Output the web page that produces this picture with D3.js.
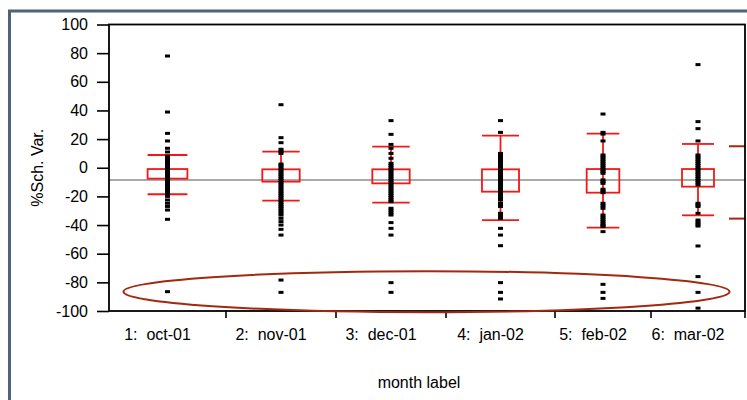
<!DOCTYPE html>
<html>
<head>
<meta charset="utf-8">
<script src="https://cdn.jsdelivr.net/npm/d3@7"></script>
<style>
  body { margin: 0; background: #fff; }
  svg { display: block; font-family: "Liberation Sans", Arial, sans-serif; }
</style>
</head>
<body>
<div id="chart"></div>
<script>
// DATA ////////////////////////////////////////////////////////////////////////

const monthLabels = ["1:  oct-01", "2:  nov-01", "3:  dec-01", "4:  jan-02", "5:  feb-02", "6:  mar-02"];

// group sizes (the x axis gives each group a width proportional to its count)
const groupN = [117, 110, 110, 109, 96, 94];

// quantile boxes: 75th, 25th, 90th and 10th percentile
const q75 = [-0.9, -1.1, -1.1, -1.1, -0.9, -0.9];
const q25 = [-7.6, -9.7, -10.9, -16.7, -17.4, -13.2];
const q90 = [8.9, 11.2, 14.7, 22.4, 23.8, 16.6];
const q10 = [-18.5, -23, -24.4, -36.5, -41.8, -33.2];

const grandMean = -8.5;
const sdMarks = [15, -35.5];

const yTicks = [100, 80, 60, 40, 20, 0, -20, -40, -60, -80, -100];

// observed %Sch. Var. per month
const octValues = [78, 38.9, 24, 18.7, 13.6, 11, 8, 6.5, 5, 4, 3, 2, 1, 0, -1, -2, -3, -4, -5, -6, -7,
  -8, -9, -10, -11, -12, -13, -14, -15, -16, -17, -18, -19, -20, -22.5, -24.8, -27, -29.5, -36, -86.5];
const novValues = [44, 21, 17.5, 12.9, 11.5, 10, 2.6, 1.5, 0, -1.5, -3, -4.5, -6, -7.5, -9, -10.5, -12,
  -13.5, -15, -16.5, -18, -19.5, -21, -22.5, -24, -25.5, -27, -28.5, -30, -31.5, -33, -35.3, -37.6,
  -40, -43, -47, -78.4, -87];
const decValues = [32.9, 23.3, 16.3, 13.6, 10, 6.6, 3.1, 1.6, 0.1, -1.4, -2.9, -4.4, -5.9, -7.4, -8.9,
  -10.4, -11.9, -13.4, -14.9, -16.4, -17.9, -19.4, -20.9, -22.4, -23.7, -28.3, -29.8, -31.5, -33,
  -38.3, -42.3, -47, -80.2, -87];
const janValues = [32.9, 24.7, 10, 8.5, 7, 5.5, 4, 2.5, 1, -0.5, -2, -3.5, -5, -6.5, -8, -9.5, -11,
  -12.5, -14, -15.5, -17, -18.5, -20, -21.5, -22.5, -24.8, -26, -27, -31.8, -33.5, -35.3, -42.3,
  -47, -54.4, -80.2, -87, -91.6];
const febValues = [37.5, 24.7, 23.5, 18.7, 8.9, 7.5, 6, 4.5, 3, 1.5, 0, -1.5, -2.7, -3.9, -8.5, -9.7,
  -10.9, -15, -16.2, -17.4, -24.8, -26.5, -28.3, -33, -34.5, -36, -37.5, -39, -40.2, -41.1, -44.6,
  -81.4, -87, -91.2];
const marValues = [72, 32.2, 27.3, 18.7, 8.9, 7.5, 6, 4.5, 3, 1.5, 0, -1.5, -3, -4.5, -6, -7.5, -9,
  -10.5, -12, -24.8, -26, -27, -31.8, -36.5, -38, -39.5, -40.7, -54.6, -76, -87, -98];

const groupValues = [octValues, novValues, decValues, janValues, febValues, marValues];

// CHART ///////////////////////////////////////////////////////////////////////

const W = 747, H = 400;
const plotLeft = 109, plotRight = 745, plotTop = 24.5, plotBottom = 311;
const fontSize = "16px";

const svg = d3.select("#chart")
  .append("svg")
  .attr("width", W)
  .attr("height", H);

// outer window frame (cropped on the right and bottom)
svg.append("path")
  .attr("d", "M9.5,400 V11 H747")
  .attr("fill", "none")
  .attr("stroke", "#4f6378")
  .attr("stroke-width", 3);

// x scale on the cumulative group counts
const cum = [0];
groupN.forEach(n => cum.push(cum[cum.length - 1] + n));
const x = d3.scaleLinear().domain([0, cum[cum.length - 1]]).range([plotLeft, plotRight]);
const y = d3.scaleLinear().domain([-100, 100]).range([plotBottom, plotTop]);

const groups = monthLabels.map((label, i) => ({
  label: label,
  x0: x(cum[i]),
  x1: x(cum[i + 1]),
  cx: (x(cum[i]) + x(cum[i + 1])) / 2,
  bw: (x(cum[i + 1]) - x(cum[i])) * 0.34,
  values: groupValues[i],
  q75: q75[i], q25: q25[i], q90: q90[i], q10: q10[i]
}));

// y axis
const yAxis = svg.append("g")
  .attr("transform", "translate(" + plotLeft + ",0)")
  .call(d3.axisLeft(y).tickValues(yTicks).tickSize(12).tickPadding(9).tickFormat(d => String(d)));
yAxis.select(".domain").remove();
yAxis.selectAll("line").attr("stroke", "#000").attr("stroke-width", 1.6);
yAxis.selectAll("text").attr("font-size", fontSize).attr("fill", "#000")
  .attr("font-family", "Liberation Sans, Arial, sans-serif");

// x axis ticks at the group boundaries
svg.selectAll(".xtick")
  .data(cum.slice(1))
  .enter()
  .append("line")
  .attr("x1", d => x(d))
  .attr("x2", d => x(d))
  .attr("y1", plotBottom)
  .attr("y2", plotBottom + 7)
  .attr("stroke", "#000")
  .attr("stroke-width", 1.6);

svg.selectAll(".xlabel")
  .data(groups)
  .enter()
  .append("text")
  .attr("x", d => d.cx - 10)
  .attr("y", 340)
  .attr("text-anchor", "middle")
  .attr("font-size", fontSize)
  .style("white-space", "pre")
  .text(d => d.label);

// axis titles
svg.append("text")
  .attr("x", 419)
  .attr("y", 388)
  .attr("text-anchor", "middle")
  .attr("font-size", fontSize)
  .text("month label");

svg.append("text")
  .attr("transform", "translate(43," + (plotTop + plotBottom) / 2 + ") rotate(-90)")
  .attr("text-anchor", "middle")
  .attr("font-size", fontSize)
  .text("%Sch. Var.");

// grand mean line
svg.append("line")
  .attr("x1", plotLeft)
  .attr("x2", plotRight)
  .attr("y1", y(grandMean))
  .attr("y2", y(grandMean))
  .attr("stroke", "#8c8c8c")
  .attr("stroke-width", 1.5);

// quantile boxes
const box = svg.selectAll(".box")
  .data(groups)
  .enter()
  .append("g")
  .attr("class", "box");

box.append("line")
  .attr("x1", d => d.cx).attr("x2", d => d.cx)
  .attr("y1", d => y(d.q90)).attr("y2", d => y(d.q10))
  .attr("stroke", "#f21818").attr("stroke-width", 1.8);

box.append("rect")
  .attr("x", d => d.cx - d.bw / 2)
  .attr("y", d => y(d.q75))
  .attr("width", d => d.bw)
  .attr("height", d => y(d.q25) - y(d.q75))
  .attr("fill", "none")
  .attr("stroke", "#f21818")
  .attr("stroke-width", 1.8);

box.selectAll(".cap")
  .data(d => [d.q90, d.q10].map(v => ({ v: v, cx: d.cx, bw: d.bw })))
  .enter()
  .append("line")
  .attr("x1", d => d.cx - d.bw / 2).attr("x2", d => d.cx + d.bw / 2)
  .attr("y1", d => y(d.v)).attr("y2", d => y(d.v))
  .attr("stroke", "#f21818").attr("stroke-width", 1.8);

// points
box.selectAll(".pt")
  .data(d => d.values.map(v => ({ v: v, cx: d.cx })))
  .enter()
  .append("rect")
  .attr("x", d => d.cx - 2.5)
  .attr("y", d => y(d.v) - 1.5)
  .attr("width", 5)
  .attr("height", 3)
  .attr("fill", "#000");

// sd marks outside the last group
svg.selectAll(".sd")
  .data(sdMarks)
  .enter()
  .append("line")
  .attr("x1", 729).attr("x2", plotRight)
  .attr("y1", d => y(d)).attr("y2", d => y(d))
  .attr("stroke", "#a2290f").attr("stroke-width", 2);

// plot frame
svg.append("rect")
  .attr("x", plotLeft)
  .attr("y", plotTop)
  .attr("width", plotRight - plotLeft)
  .attr("height", plotBottom - plotTop)
  .attr("fill", "none")
  .attr("stroke", "#000")
  .attr("stroke-width", 1.8);

// highlight ellipse round the low outliers
svg.append("ellipse")
  .attr("cx", (x(0) + x(cum[6])) / 2 - 0.5)
  .attr("cy", y(-86.5))
  .attr("rx", 303)
  .attr("ry", 20.5)
  .attr("fill", "none")
  .attr("stroke", "#a2290f")
  .attr("stroke-width", 2);
</script>
</body>
</html>
